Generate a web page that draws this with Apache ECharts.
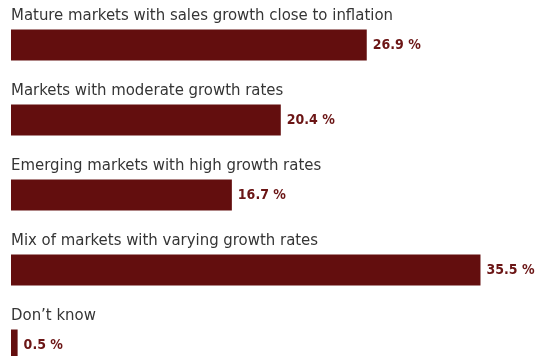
<!DOCTYPE html>
<html>
<head>
<meta charset="utf-8">
<script src="https://cdn.jsdelivr.net/npm/echarts@6/dist/echarts.min.js"></script>
<style>
  html, body { margin: 0; padding: 0; background: #fff; }
  #chart { width: 540px; height: 356px; }
</style>
</head>
<body>
<div id="chart"></div>
<script>
// Survey answers and their shares (%)
const categories = [
  'Mature markets with sales growth close to inflation',
  'Markets with moderate growth rates',
  'Emerging markets with high growth rates',
  'Mix of markets with varying growth rates',
  'Don\u2019t know'
];
const shares = [26.9, 20.4, 16.7, 35.5, 0.5];

const FONT = 'DejaVu Sans Condensed';

const chart = echarts.init(document.getElementById('chart'));
chart.setOption({
  animation: false,
  // first and last bar centres sit on the grid's top and bottom edges
  grid: { left: 11, top: 45, width: 530, height: 300, containLabel: false },
  xAxis: { type: 'value', min: 0, max: 40, show: false },
  yAxis: {
    type: 'category',
    data: categories,
    inverse: true,
    boundaryGap: false,
    show: false
  },
  series: [
    {
      // the bars with their value labels
      type: 'bar',
      data: shares,
      barWidth: 31,
      barGap: '-100%',
      itemStyle: { color: '#630e0e' },
      label: {
        show: true,
        position: 'right',
        distance: 6,
        formatter: p => p.value.toFixed(1) + ' %',
        fontFamily: FONT,
        fontWeight: 'bold',
        fontSize: 14,
        color: '#6b1515'
      },
      z: 2
    },
    {
      // category titles written above each bar
      type: 'bar',
      data: shares,
      barWidth: 31,
      barGap: '-100%',
      itemStyle: { color: 'rgba(0,0,0,0)' },
      silent: true,
      label: {
        show: true,
        position: 'insideLeft',
        distance: 0,
        offset: [0, -29],
        formatter: p => p.name,
        fontFamily: FONT,
        fontSize: 16.6,
        color: '#353535'
      },
      z: 3
    }
  ]
});
</script>
</body>
</html>
